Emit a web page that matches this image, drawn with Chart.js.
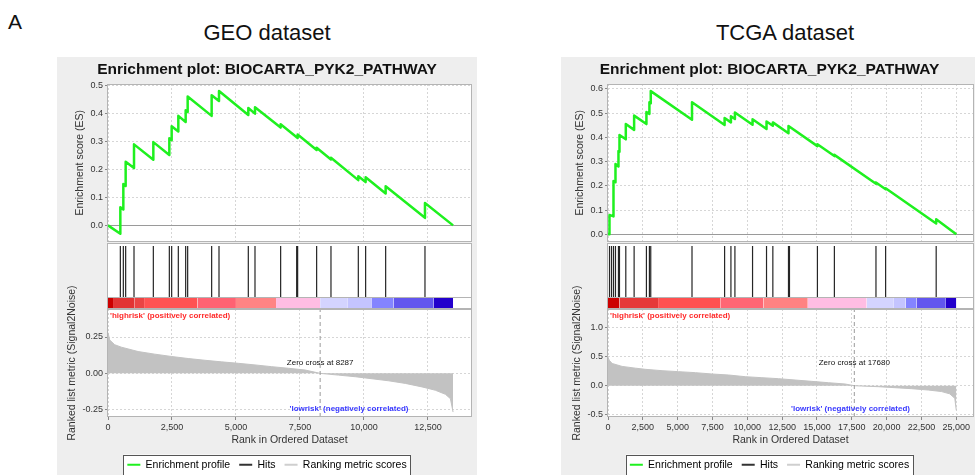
<!DOCTYPE html>
<html>
<head>
<meta charset="utf-8">
<script src="https://cdn.jsdelivr.net/npm/chart.js@4.4.1/dist/chart.umd.min.js"></script>
<style>
  body { margin: 0; width: 975px; height: 475px; overflow: hidden; position: relative; background: #fff;
         font-family: "Liberation Sans", Arial, Helvetica, sans-serif; }
  .panel { position: absolute; top: 57px; height: 418px; background: #eeeeee; overflow: hidden; }
  .panel canvas { position: absolute; left: 0; }
  .lbl { position: absolute; color: #111; line-height: 1; white-space: nowrap; }
</style>
</head>
<body>
<div class="lbl" style="left:8px;top:11px;font-size:21px">A</div>
<div class="lbl" style="left:117px;top:22px;width:300px;text-align:center;font-size:22px">GEO dataset</div>
<div class="lbl" style="left:635px;top:22px;width:300px;text-align:center;font-size:22px">TCGA dataset</div>
<div class="panel" id="geo" style="left:57px;width:420px"></div>
<div class="panel" id="tcga" style="left:561px;width:414px"></div>

<script>
// ---- GEO dataset ----
const geoXTicks = [0, 2500, 5000, 7500, 10000, 12500];
const geoEsTicks = [0.0, 0.1, 0.2, 0.3, 0.4, 0.5];
const geoRankTicks = [-0.25, 0.0, 0.25];
// running enrichment score, read at each hit (before / after the step)
const geoEsRanks = [0, 482, 482, 599, 599, 690, 690, 1016, 1016, 1771, 1771, 2396, 2396, 2487, 2487,
  2747, 2747, 3034, 3034, 3112, 3112, 4049, 4049, 4336, 4336, 5481, 5481, 5742, 5742, 6744, 6744,
  7408, 7408, 8150, 8150, 8710, 8710, 9778, 9778, 10064, 10064, 10846, 10846, 12382, 12382, 13480];
const geoEsValues = [0, -0.030, 0.065, 0.057, 0.148, 0.141, 0.228, 0.205, 0.290, 0.235, 0.298, 0.252, 0.312, 0.305, 0.355,
  0.336, 0.392, 0.370, 0.412, 0.406, 0.461, 0.392, 0.466, 0.445, 0.481, 0.395, 0.420, 0.400, 0.423, 0.350, 0.362,
  0.313, 0.325, 0.270, 0.278, 0.236, 0.242, 0.162, 0.176, 0.155, 0.172, 0.114, 0.140, 0.027, 0.080, 0.000];
const geoHits = [482, 599, 690, 1016, 1771, 2396, 2487, 2747, 3034, 3112, 4049, 4336, 5481, 5742,
  6744, 7370, 7408, 8150, 8710, 9778, 10064, 10846, 12382];
const geoMetricRanks = [0, 65, 261, 522, 1175, 1827, 2480, 3132, 3785, 4437, 5090, 5742, 6395, 7047,
  7700, 8287, 9005, 9657, 10310, 10962, 11615, 12267, 12789, 13181, 13376, 13480];
const geoMetricValues = [0.28, 0.23, 0.197, 0.18, 0.15, 0.132, 0.116, 0.102, 0.09, 0.079, 0.069, 0.058, 0.046, 0.035,
  0.023, 0.0, -0.012, -0.023, -0.037, -0.051, -0.069, -0.093, -0.116, -0.144, -0.174, -0.266];
const geoBarEdges = [0, 196, 1044, 1409, 3497, 4998, 6564, 8287, 9370, 10310, 11158, 12724, 13480];
const geoZeroCross = 8287;

// ---- TCGA dataset ----
const tcgaXTicks = [0, 2500, 5000, 7500, 10000, 12500, 15000, 17500, 20000, 22500, 25000];
const tcgaEsTicks = [0.0, 0.1, 0.2, 0.3, 0.4, 0.5, 0.6];
const tcgaRankTicks = [-0.5, 0.0, 0.5, 1.0];
const tcgaEsRanks = [0, 107, 107, 394, 394, 537, 537, 751, 751, 824, 824, 1278, 1278, 1875, 1875,
  2758, 2758, 2973, 2973, 3069, 3069, 6030, 6030, 8370, 8370, 8824, 8824, 9110, 9110, 10376, 10376,
  11379, 11379, 11833, 11833, 12956, 12956, 15032, 15032, 16250, 16250, 19235, 19235, 19928, 19928,
  23557, 23557, 25000];
const tcgaEsValues = [0, 0.0, 0.080, 0.074, 0.220, 0.215, 0.290, 0.280, 0.344, 0.341, 0.410, 0.392, 0.455, 0.431, 0.490,
  0.455, 0.505, 0.497, 0.545, 0.541, 0.591, 0.473, 0.545, 0.451, 0.480, 0.462, 0.487, 0.476, 0.503, 0.452, 0.475,
  0.435, 0.466, 0.448, 0.462, 0.417, 0.447, 0.364, 0.372, 0.323, 0.328, 0.209, 0.214, 0.186, 0.190,
  0.045, 0.062, 0.0];
const tcgaHits = [107, 251, 394, 537, 751, 824, 1278, 1875, 2758, 2973, 3069, 6030, 8370, 8824, 9110,
  10376, 11379, 11833, 12956, 13027, 15032, 16250, 19235, 19928, 23557];
const tcgaMetricRanks = [0, 107, 299, 1015, 1970, 2687, 3881, 5075, 6269, 7463, 8657, 9851, 11045, 12239,
  13433, 14627, 15821, 17015, 17680, 18206, 19400, 20594, 21788, 22982, 23937, 24534, 24893, 25000];
const tcgaMetricValues = [0.48, 0.43, 0.38, 0.33, 0.30, 0.28, 0.257, 0.24, 0.223, 0.20, 0.183, 0.154, 0.137, 0.12,
  0.097, 0.074, 0.051, 0.029, 0.0, -0.006, -0.017, -0.034, -0.051, -0.074, -0.10, -0.14, -0.217, -0.42];
const tcgaBarEdges = [0, 824, 3594, 8060, 11164, 14340, 18567, 20477, 21361, 22149, 24250, 25000];
const tcgaZeroCross = 17680;

// colours of the ranked-list heat bar, red -> blue
const geoBarColors = ['#cc0000', '#e23434', '#ea4444', '#ff5252', '#ff6272', '#ff8484',
  '#ffbde3', '#d4d4ff', '#c4c4ff', '#8484ff', '#6256ee', '#2300cc'];
const tcgaBarColors = ['#cc0000', '#e63939', '#ff5050', '#ff6674', '#ff8282',
  '#ffbde3', '#d4d4ff', '#c4c4ff', '#8484ff', '#6256ee', '#2300cc'];

const GREEN = '#1ff01f';
const GRID = '#d6d6d6';
const FRAME = '#b4b4b4';
const FONT = '"Liberation Sans", Arial, Helvetica, sans-serif';
const BAR_TOP = 0.182;   // heat bar height inside the hits strip
const HIT_TOP = 0.955;

Chart.defaults.font.family = FONT;
Chart.defaults.color = '#333';

function legendBox(chart) {
  const lg = chart.legend;
  if (!lg || !lg.options.display || !lg.legendHitBoxes || !lg.legendHitBoxes.length) return null;
  const hb = lg.legendHitBoxes;
  const first = hb[0], last = hb[hb.length - 1];
  return { x: first.left - 4, y: first.top - 5, w: last.left + last.width - first.left + 8, h: first.height + 10 };
}

// white plot background, grey frame, boxed legend
const framePlugin = {
  id: 'frame',
  beforeDraw(chart) {
    const { ctx, chartArea: a } = chart;
    ctx.save();
    ctx.fillStyle = '#fff';
    ctx.fillRect(a.left, a.top, a.right - a.left, a.bottom - a.top);
    const b = legendBox(chart);
    if (b) ctx.fillRect(b.x, b.y, b.w, b.h);
    ctx.restore();
  },
  afterDraw(chart, args, opts) {
    const { ctx, chartArea: a } = chart;
    ctx.save();
    ctx.strokeStyle = FRAME;
    ctx.lineWidth = 1;
    ctx.strokeRect(Math.round(a.left) - 0.5, Math.round(a.top) + 0.5,
      Math.round(a.right - a.left) + 1, Math.round(a.bottom - a.top) - 1);
    (opts.dividers || []).forEach(v => {
      const y = Math.round(chart.scales.y.getPixelForValue(v)) + 0.5;
      ctx.beginPath(); ctx.moveTo(a.left, y); ctx.lineTo(a.right, y); ctx.stroke();
    });
    const b = legendBox(chart);
    if (b) {
      ctx.strokeStyle = '#555';
      ctx.strokeRect(Math.round(b.x) + 0.5, Math.round(b.y) + 0.5, Math.round(b.w), Math.round(b.h));
    }
    ctx.restore();
  }
};

// correlation notes in the ranked-list plot
const notesPlugin = {
  id: 'notes',
  afterDatasetsDraw(chart, args, o) {
    const { ctx, chartArea: a, scales: { x } } = chart;
    ctx.save();
    ctx.textBaseline = 'middle';
    ctx.font = 'bold 8px ' + FONT;
    ctx.fillStyle = '#ff2a2a';
    ctx.textAlign = 'left';
    ctx.fillText("'highrisk' (positively correlated)", a.left + 2, a.top + 7);
    ctx.fillStyle = '#3838ff';
    ctx.textAlign = 'center';
    ctx.fillText("'lowrisk' (negatively correlated)", x.getPixelForValue(o.lowAt), a.bottom - 8);
    ctx.fillStyle = '#111';
    ctx.font = '8px ' + FONT;
    ctx.fillText('Zero cross at ' + o.zeroCross, x.getPixelForValue(o.zeroCross), a.top + 54);
    ctx.restore();
  }
};

const legendItems = [
  { text: 'Enrichment profile', fillStyle: GREEN, strokeStyle: GREEN, lineWidth: 0, hidden: false },
  { text: 'Hits', fillStyle: '#333', strokeStyle: '#333', lineWidth: 0, hidden: false },
  { text: 'Ranking metric scores', fillStyle: '#cfcfcf', strokeStyle: '#cfcfcf', lineWidth: 0, hidden: false }
];

const pairs = (xs, ys) => xs.map((x, i) => ({ x: x, y: ys[i] }));
const fixedTicks = arr => scale => { scale.ticks = arr.map(v => ({ value: v })); };

function makePanel(p) {
  const root = document.getElementById(p.id);
  function addCanvas(top, h) {
    const c = document.createElement('canvas');
    c.width = p.width; c.height = h;
    c.style.top = top + 'px';
    root.appendChild(c);
    return c;
  }

  const xBase = {
    type: 'linear', min: 0, max: p.xMax,
    afterBuildTicks: fixedTicks(p.xTicks),
    grid: { color: GRID, tickLength: 3, tickColor: '#888' },
    border: { display: false, dash: [2, 2] }
  };

  // enrichment score: plot area 27..186 inside this canvas
  new Chart(addCanvas(0, 192), {
    type: 'line',
    data: { datasets: [{
      data: pairs(p.esRanks, p.esValues), borderColor: GREEN, borderWidth: 2.5,
      pointRadius: 0, tension: 0, borderJoinStyle: 'round'
    }] },
    options: {
      responsive: false, animation: false, events: [],
      layout: { padding: { left: p.padL, right: p.padR, top: 0, bottom: 6 } },
      plugins: {
        legend: { display: false }, tooltip: { enabled: false },
        title: { display: true, text: 'Enrichment plot: BIOCARTA_PYK2_PATHWAY', color: '#111',
                 font: { size: 15.5, weight: 'bold', lineHeight: 1.2 }, padding: { top: 3, bottom: 5.4 } }
      },
      scales: {
        x: Object.assign({}, xBase, { ticks: { display: false }, grid: { color: GRID, drawTicks: false },
                                      afterFit: s => { s.height = 0; } }),
        y: {
          min: p.esMin, max: p.esMax,
          afterBuildTicks: fixedTicks(p.esTicks),
          afterFit: s => { s.width = p.axisW; },
          ticks: { font: { size: 9 }, padding: 2, callback: v => v.toFixed(1) },
          grid: { color: c => (c.tick && c.tick.value === 0) ? '#9a9a9a' : GRID, tickLength: 3, tickColor: '#888' },
          border: { display: false, dash: c => (c.tick && c.tick.value === 0) ? [] : [2, 2] },
          title: { display: true, text: 'Enrichment score (ES)', color: '#333',
                   font: { size: 10.5, lineHeight: 1 }, padding: { top: p.esTitlePad, bottom: 0 } }
        }
      }
    },
    plugins: [framePlugin]
  });

  // hits + heat bar
  const hitData = p.hits.flatMap(r => [{ x: r, y: BAR_TOP }, { x: r, y: HIT_TOP }, { x: r, y: null }]);
  const barSets = p.barColors.map((col, i) => ({
    data: [{ x: p.barEdges[i], y: BAR_TOP }, { x: p.barEdges[i + 1], y: BAR_TOP }],
    fill: 'origin', backgroundColor: col, borderColor: 'rgba(0,0,0,0)', borderWidth: 1, pointRadius: 0
  }));
  new Chart(addCanvas(186, 67), {
    type: 'line',
    data: { datasets: [{ data: hitData, borderColor: '#262626', borderWidth: 1.2, pointRadius: 0 }].concat(barSets) },
    options: {
      responsive: false, animation: false, events: [],
      layout: { padding: { left: p.padL + p.axisW, right: p.padR, top: 0, bottom: 1 } },
      plugins: { legend: { display: false }, tooltip: { enabled: false }, frame: { dividers: [BAR_TOP] } },
      scales: {
        x: { type: 'linear', min: 0, max: p.xMax, display: false },
        y: { min: 0, max: 1, display: false }
      }
    },
    plugins: [framePlugin]
  });

  // ranked list metric: canvas starts above the plot so the long axis title fits
  new Chart(addCanvas(173, 250), {
    type: 'line',
    data: { datasets: [
      { data: [{ x: p.zeroCross, y: p.rkMin }, { x: p.zeroCross, y: p.rkMax }], borderColor: '#9a9a9a',
        borderWidth: 1, borderDash: [4, 3], pointRadius: 0 },
      { data: pairs(p.metricRanks, p.metricValues), fill: 'origin', backgroundColor: '#c2c2c2',
        borderColor: '#c2c2c2', borderWidth: 1, pointRadius: 0, tension: 0 }
    ] },
    options: {
      responsive: false, animation: false, events: [],
      layout: { padding: { left: p.padL, right: p.padR, top: 79, bottom: 0 } },
      plugins: {
        tooltip: { enabled: false },
        legend: {
          display: true, position: 'bottom',
          labels: { boxWidth: 13, boxHeight: 2, padding: 9, color: '#222', font: { size: 10.5 },
                    generateLabels: () => legendItems }
        },
        notes: { zeroCross: p.zeroCross, lowAt: p.lowAt }
      },
      scales: {
        x: Object.assign({}, xBase, {
          afterFit: s => { s.height = 33.5; },
          ticks: { font: { size: 9 }, padding: 2, maxRotation: 0, autoSkip: false,
                   callback: v => v.toLocaleString('en-US') },
          title: { display: true, text: 'Rank in Ordered Dataset', color: '#333',
                   font: { size: 10.5, lineHeight: 1.2 }, padding: { top: 1, bottom: 4.2 } }
        }),
        y: {
          min: p.rkMin, max: p.rkMax,
          afterBuildTicks: fixedTicks(p.rkTicks),
          afterFit: s => { s.width = p.axisW; },
          ticks: { font: { size: 9 }, padding: 2, callback: v => v.toFixed(p.rkDec) },
          grid: { color: GRID, tickLength: 3, tickColor: '#888' },
          border: { display: false, dash: [2, 2] },
          title: { display: true, text: 'Ranked list metric (Signal2Noise)', color: '#333',
                   font: { size: 10.5, lineHeight: 1 }, padding: { top: p.rkTitlePad, bottom: 0 } }
        }
      }
    },
    plugins: [framePlugin, notesPlugin]
  });
}

makePanel({
  id: 'geo', width: 420, padL: 6, padR: 6, axisW: 45, esTitlePad: 11.75, rkTitlePad: 3.75,
  xMax: 14180, xTicks: geoXTicks,
  esMin: -0.058, esMax: 0.506, esTicks: geoEsTicks, esRanks: geoEsRanks, esValues: geoEsValues,
  hits: geoHits, barEdges: geoBarEdges, barColors: geoBarColors,
  rkMin: -0.30, rkMax: 0.4425, rkTicks: geoRankTicks, rkDec: 2,
  metricRanks: geoMetricRanks, metricValues: geoMetricValues,
  zeroCross: geoZeroCross, lowAt: 9414
});

makePanel({
  id: 'tcga', width: 414, padL: 5, padR: 2, axisW: 42, esTitlePad: 8.75, rkTitlePad: 5.75,
  xMax: 26200, xTicks: tcgaXTicks,
  esMin: -0.030, esMax: 0.6204, esTicks: tcgaEsTicks, esRanks: tcgaEsRanks, esValues: tcgaEsValues,
  hits: tcgaHits, barEdges: tcgaBarEdges, barColors: tcgaBarColors,
  rkMin: -0.536, rkMax: 1.313, rkTicks: tcgaRankTicks, rkDec: 1,
  metricRanks: tcgaMetricRanks, metricValues: tcgaMetricValues,
  zeroCross: tcgaZeroCross, lowAt: 17407
});
</script>
</body>
</html>
